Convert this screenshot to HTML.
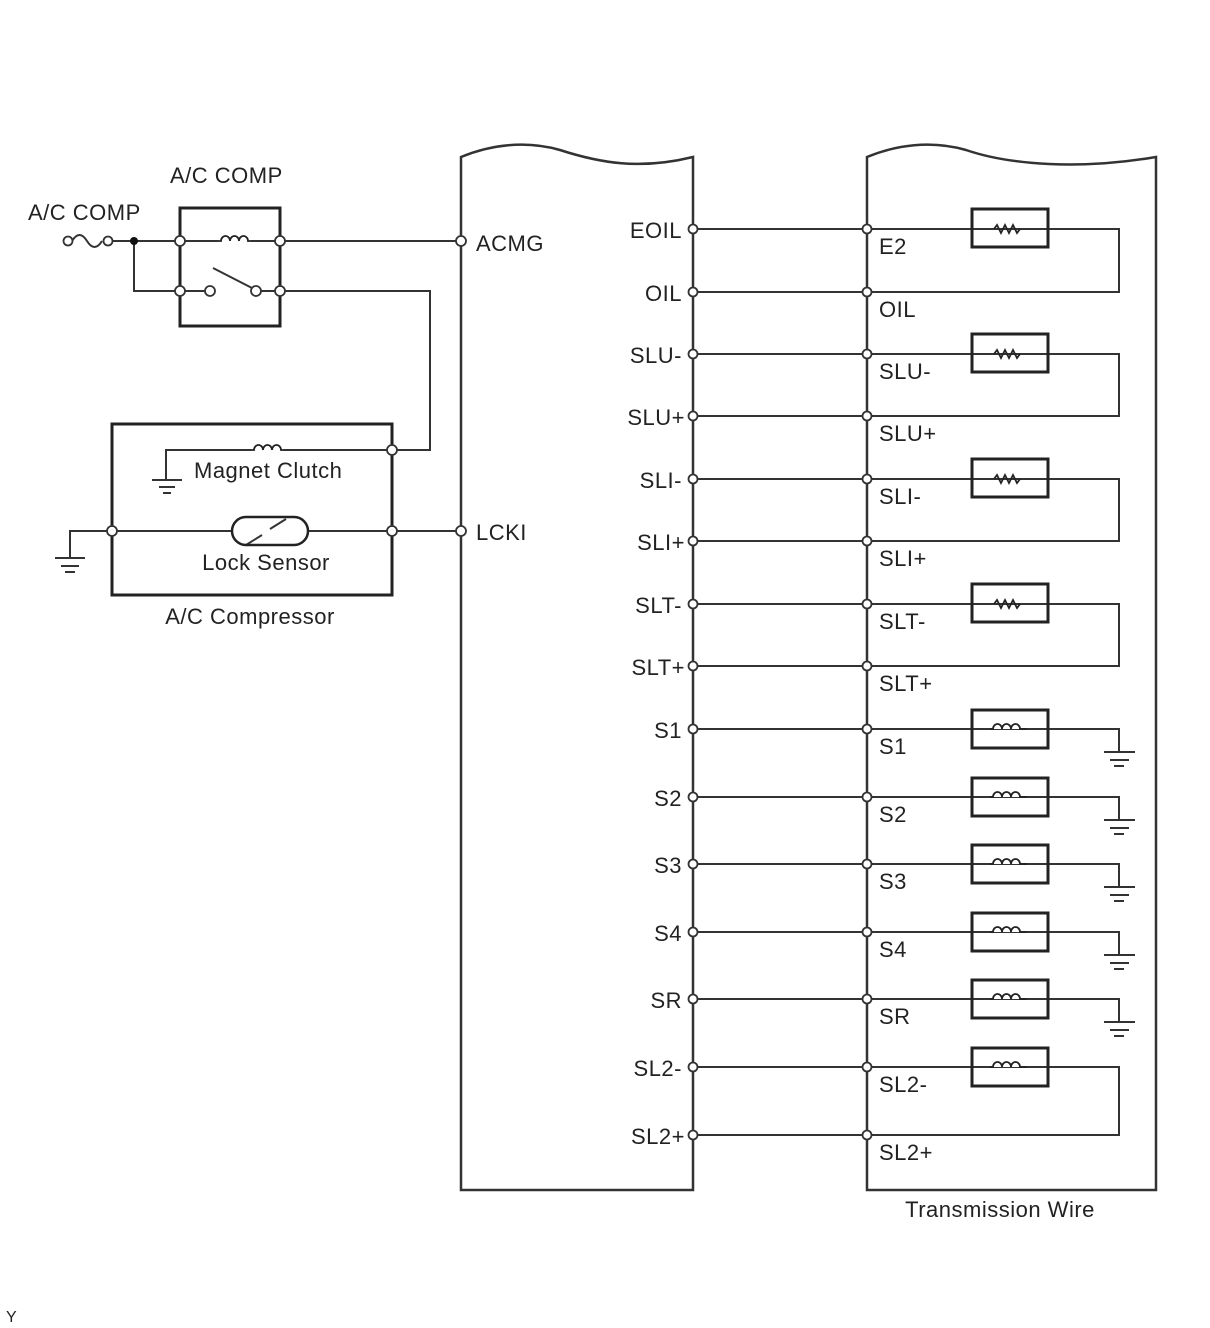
<!DOCTYPE html>
<html><head><meta charset="utf-8"><style>
html,body{margin:0;padding:0;background:#fff;}
svg{display:block;}
text{font-family:"Liberation Sans",Arial,sans-serif;font-size:22px;letter-spacing:0.5px;fill:#222;}
</style></head><body>
<svg width="1210" height="1328" viewBox="0 0 1210 1328" xmlns="http://www.w3.org/2000/svg">
<g fill="none" stroke="#333" stroke-width="2">
<path d="M461,157 C490,145 525,140 560,150 C600,163 640,170 693,157 L693,1190 L461,1190 Z" stroke-width="2.5"/>
<path d="M867,157 C896,145 931,140 966,150 C1010,165 1080,170 1156,157 L1156,1190 L867,1190 Z" stroke-width="2.5"/>
<path d="M693,229 H1119 V292 H693"/>
<path d="M693,354 H1119 V416 H693"/>
<path d="M693,479 H1119 V541 H693"/>
<path d="M693,604 H1119 V666 H693"/>
<path d="M693,1067 H1119 V1135 H693"/>
<path d="M693,729 H1119 V752"/>
<path d="M693,797 H1119 V820"/>
<path d="M693,864 H1119 V887"/>
<path d="M693,932 H1119 V955"/>
<path d="M693,999 H1119 V1022"/>
</g>
<g stroke="#333" stroke-width="2">
<path d="M1104,752h31M1110,760h19M1114,766h10"/>
<path d="M1104,820h31M1110,828h19M1114,834h10"/>
<path d="M1104,887h31M1110,895h19M1114,901h10"/>
<path d="M1104,955h31M1110,963h19M1114,969h10"/>
<path d="M1104,1022h31M1110,1030h19M1114,1036h10"/>
</g>
<g fill="none" stroke="#222" stroke-width="3">
<rect x="972" y="209" width="76" height="38"/>
<rect x="972" y="334" width="76" height="38"/>
<rect x="972" y="459" width="76" height="38"/>
<rect x="972" y="584" width="76" height="38"/>
<rect x="972" y="710" width="76" height="38"/>
<rect x="972" y="778" width="76" height="38"/>
<rect x="972" y="845" width="76" height="38"/>
<rect x="972" y="913" width="76" height="38"/>
<rect x="972" y="980" width="76" height="38"/>
<rect x="972" y="1048" width="76" height="38"/>
</g>
<g fill="none" stroke="#222" stroke-width="1.8">
<path d="M994,229 l3,-4 l4,8 l4,-8 l4,8 l4,-8 l4,8 l3,-4"/>
<path d="M994,354 l3,-4 l4,8 l4,-8 l4,8 l4,-8 l4,8 l3,-4"/>
<path d="M994,479 l3,-4 l4,8 l4,-8 l4,8 l4,-8 l4,8 l3,-4"/>
<path d="M994,604 l3,-4 l4,8 l4,-8 l4,8 l4,-8 l4,8 l3,-4"/>
</g>
<g fill="#fff" stroke="#222" stroke-width="1.8">
<path d="M990,729 h3 a4.5,5 0 1 1 9,0 a4.5,5 0 1 1 9,0 a4.5,5 0 1 1 9,0 h7"/>
<path d="M990,797 h3 a4.5,5 0 1 1 9,0 a4.5,5 0 1 1 9,0 a4.5,5 0 1 1 9,0 h7"/>
<path d="M990,864 h3 a4.5,5 0 1 1 9,0 a4.5,5 0 1 1 9,0 a4.5,5 0 1 1 9,0 h7"/>
<path d="M990,932 h3 a4.5,5 0 1 1 9,0 a4.5,5 0 1 1 9,0 a4.5,5 0 1 1 9,0 h7"/>
<path d="M990,999 h3 a4.5,5 0 1 1 9,0 a4.5,5 0 1 1 9,0 a4.5,5 0 1 1 9,0 h7"/>
<path d="M990,1067 h3 a4.5,5 0 1 1 9,0 a4.5,5 0 1 1 9,0 a4.5,5 0 1 1 9,0 h7"/>
<path d="M218,241 h3 a4.5,5 0 1 1 9,0 a4.5,5 0 1 1 9,0 a4.5,5 0 1 1 9,0 h3"/>
<path d="M251,450 h3 a4.5,5 0 1 1 9,0 a4.5,5 0 1 1 9,0 a4.5,5 0 1 1 9,0 h3"/>
</g>
<g fill="none" stroke="#333" stroke-width="2">
<path d="M72,241 c5,-8 10,-8 15,0 c5,8 10,8 15,0"/>
<path d="M112,241 H218 M251,241 H461"/>
<path d="M134,241 V291 H205"/>
<path d="M213,268 L252,288"/>
<path d="M256,291 H430 V450 H392"/>
<path d="M392,450 H284 M251,450 H166 V480"/>
<path d="M70,558 V531 H232 M308,531 H461"/>
<path d="M246,545 L262,535 M270,529 L286,519"/>
</g>
<g stroke="#333" stroke-width="2">
<path d="M152,480h30M159,487h16M163,493h8"/>
<path d="M55,558h30M61,566h18M65,572h10"/>
</g>
<g fill="none" stroke="#222" stroke-width="3">
<rect x="180" y="208" width="100" height="118"/>
<rect x="112" y="424" width="280" height="171"/>
<rect x="232" y="517" width="76" height="28" rx="14" stroke-width="2.5"/>
</g>
<circle cx="134" cy="241" r="4" fill="#111"/>
<g fill="#fff" stroke="#333" stroke-width="1.8">
<circle cx="68" cy="241" r="4.5"/><circle cx="108" cy="241" r="4.5"/>
<circle cx="180" cy="241" r="5"/><circle cx="280" cy="241" r="5"/>
<circle cx="180" cy="291" r="5"/><circle cx="280" cy="291" r="5"/>
<circle cx="210" cy="291" r="5"/><circle cx="256" cy="291" r="5"/>
<circle cx="392" cy="450" r="5"/><circle cx="392" cy="531" r="5"/><circle cx="112" cy="531" r="5"/>
<circle cx="461" cy="241" r="5"/><circle cx="461" cy="531" r="5"/>
<circle cx="693" cy="229" r="4.5"/><circle cx="867" cy="229" r="4.5"/>
<circle cx="693" cy="292" r="4.5"/><circle cx="867" cy="292" r="4.5"/>
<circle cx="693" cy="354" r="4.5"/><circle cx="867" cy="354" r="4.5"/>
<circle cx="693" cy="416" r="4.5"/><circle cx="867" cy="416" r="4.5"/>
<circle cx="693" cy="479" r="4.5"/><circle cx="867" cy="479" r="4.5"/>
<circle cx="693" cy="541" r="4.5"/><circle cx="867" cy="541" r="4.5"/>
<circle cx="693" cy="604" r="4.5"/><circle cx="867" cy="604" r="4.5"/>
<circle cx="693" cy="666" r="4.5"/><circle cx="867" cy="666" r="4.5"/>
<circle cx="693" cy="729" r="4.5"/><circle cx="867" cy="729" r="4.5"/>
<circle cx="693" cy="797" r="4.5"/><circle cx="867" cy="797" r="4.5"/>
<circle cx="693" cy="864" r="4.5"/><circle cx="867" cy="864" r="4.5"/>
<circle cx="693" cy="932" r="4.5"/><circle cx="867" cy="932" r="4.5"/>
<circle cx="693" cy="999" r="4.5"/><circle cx="867" cy="999" r="4.5"/>
<circle cx="693" cy="1067" r="4.5"/><circle cx="867" cy="1067" r="4.5"/>
<circle cx="693" cy="1135" r="4.5"/><circle cx="867" cy="1135" r="4.5"/>
</g>
<text x="170" y="183">A/C COMP</text>
<text x="28" y="220">A/C COMP</text>
<text x="476" y="251">ACMG</text>
<text x="476" y="540">LCKI</text>
<text x="194" y="478">Magnet Clutch</text>
<text x="266" y="570" text-anchor="middle">Lock Sensor</text>
<text x="250" y="624" text-anchor="middle">A/C Compressor</text>
<text x="1000" y="1217" text-anchor="middle">Transmission Wire</text>
<text x="6" y="1322" style="font-size:16px">Y</text>
<g text-anchor="end">
<text x="682" y="238">EOIL</text>
<text x="682" y="301">OIL</text>
<text x="682" y="363">SLU-</text>
<text x="685" y="425">SLU+</text>
<text x="682" y="488">SLI-</text>
<text x="685" y="550">SLI+</text>
<text x="682" y="613">SLT-</text>
<text x="685" y="675">SLT+</text>
<text x="682" y="738">S1</text>
<text x="682" y="806">S2</text>
<text x="682" y="873">S3</text>
<text x="682" y="941">S4</text>
<text x="682" y="1008">SR</text>
<text x="682" y="1076">SL2-</text>
<text x="685" y="1144">SL2+</text>
</g>
<text x="879" y="254">E2</text>
<text x="879" y="317">OIL</text>
<text x="879" y="379">SLU-</text>
<text x="879" y="441">SLU+</text>
<text x="879" y="504">SLI-</text>
<text x="879" y="566">SLI+</text>
<text x="879" y="629">SLT-</text>
<text x="879" y="691">SLT+</text>
<text x="879" y="754">S1</text>
<text x="879" y="822">S2</text>
<text x="879" y="889">S3</text>
<text x="879" y="957">S4</text>
<text x="879" y="1024">SR</text>
<text x="879" y="1092">SL2-</text>
<text x="879" y="1160">SL2+</text>
</svg>
</body></html>
